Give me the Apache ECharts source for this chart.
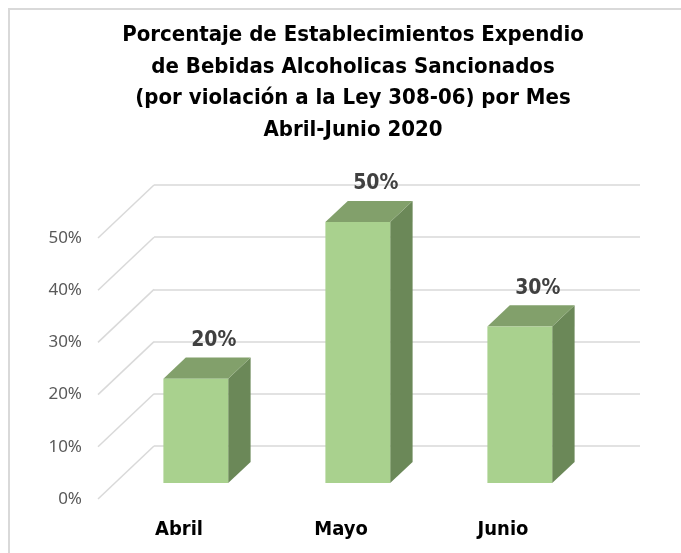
<!DOCTYPE html>
<html>
<head>
<meta charset="utf-8">
<script src="https://cdn.jsdelivr.net/npm/echarts@6/dist/echarts.min.js"></script>
<style>
  html, body { margin: 0; padding: 0; background: #fff; }
  #container { width: 681px; height: 553px; }
</style>
</head>
<body>
<div id="container"></div>
<script>
// datos
var categories = ['Abril', 'Mayo', 'Junio'];
var values = [20, 50, 30];
var yTicks = [0, 10, 20, 30, 40, 50];

var titleText = 'Porcentaje de Establecimientos Expendio\nde Bebidas Alcoholicas Sancionados\n(por violación a la Ley 308-06) por Mes\nAbril-Junio 2020';

// profundidad del "3D" (pixeles)
var DX = 56, DY = 53;
var BAR_FRONT = 0.3, BAR_DEPTH = 0.4;

var dom = document.getElementById('container');
var myChart = echarts.init(dom);

function renderWall(params, api) {
    var v = api.value(0);
    var p = api.coord([0, v]);
    var x0 = params.coordSys.x;
    return {
        type: 'line',
        shape: { x1: x0, y1: p[1], x2: x0 + DX, y2: p[1] - DY },
        style: { stroke: '#d9d9d9', lineWidth: 1.5 },
        silent: true
    };
}

function renderBar(params, api) {
    var i = api.value(0);
    var v = api.value(1);
    var base = api.coord([i, 0]);
    var top = api.coord([i, v]);
    var half = api.size([1, 0])[0] * 0.2;
    var ox = DX * BAR_FRONT, oy = DY * BAR_FRONT;
    var dx = DX * BAR_DEPTH, dy = DY * BAR_DEPTH;
    var l = base[0] - half + ox, r = base[0] + half + ox;
    var b = base[1] - oy, t = top[1] - oy;
    return {
        type: 'group',
        children: [
            {
                type: 'polygon',
                shape: { points: [[r, b], [r + dx, b - dy], [r + dx, t - dy], [r, t]] },
                style: { fill: '#6b8858' }
            },
            {
                type: 'polygon',
                shape: { points: [[l, t], [r, t], [r + dx, t - dy], [l + dx, t - dy]] },
                style: { fill: '#82a06b' }
            },
            {
                type: 'rect',
                shape: { x: l, y: t, width: r - l, height: b - t },
                style: { fill: '#a9d18e' }
            },
            {
                type: 'text',
                x: (l + r) / 2 + 18,
                y: t - dy - 17,
                style: {
                    text: v + '%',
                    fill: '#404040',
                    font: 'bold 21px "DejaVu Sans Condensed", "DejaVu Sans", sans-serif',
                    align: 'center',
                    verticalAlign: 'middle'
                }
            }
        ]
    };
}

var option = {
    backgroundColor: '#fff',
    animation: false,
    title: {
        text: titleText,
        left: 348,
        top: 15,
        textAlign: 'center',
        textStyle: {
            fontFamily: '"DejaVu Sans Condensed", "DejaVu Sans", sans-serif',
            fontWeight: 'bold',
            fontSize: 22,
            lineHeight: 31.5,
            color: '#000'
        }
    },
    graphic: [
        { type: 'line', shape: { x1: 8, y1: 9, x2: 681, y2: 9 }, style: { stroke: '#d9d9d9', lineWidth: 2 } },
        { type: 'line', shape: { x1: 9, y1: 8, x2: 9, y2: 553 }, style: { stroke: '#d9d9d9', lineWidth: 2 } }
    ],
    grid: [
        { left: 98, width: 486, top: 238, height: 261 },
        { left: 98 + DX, width: 486, top: 238 - DY, height: 261 }
    ],
    xAxis: [
        {
            type: 'category',
            gridIndex: 0,
            data: categories,
            axisLine: { show: false },
            axisTick: { show: false },
            axisLabel: {
                margin: 21,
                color: '#000',
                fontWeight: 'bold',
                fontSize: 20,
                fontFamily: '"DejaVu Sans Condensed", "DejaVu Sans", sans-serif'
            }
        },
        {
            type: 'category',
            gridIndex: 1,
            data: categories,
            show: false
        }
    ],
    yAxis: [
        {
            type: 'value',
            gridIndex: 0,
            min: 0,
            max: 50,
            interval: 10,
            axisLine: { show: false },
            axisTick: { show: false },
            splitLine: { show: false },
            axisLabel: {
                margin: 16,
                formatter: '{value}%',
                color: '#595959',
                fontSize: 17,
                fontFamily: '"Noto Sans", sans-serif'
            }
        },
        {
            type: 'value',
            gridIndex: 1,
            min: 0,
            max: 50,
            interval: 10,
            axisLine: { show: false },
            axisTick: { show: false },
            axisLabel: { show: false },
            splitLine: { show: true, lineStyle: { color: '#d9d9d9', width: 1.5 } }
        }
    ],
    series: [
        {
            type: 'custom',
            name: 'pared',
            xAxisIndex: 0,
            yAxisIndex: 0,
            renderItem: renderWall,
            data: yTicks.map(function (t) { return [t]; }),
            encode: { y: 0 },
            z: 1
        },
        {
            type: 'custom',
            name: 'Porcentaje',
            xAxisIndex: 0,
            yAxisIndex: 0,
            renderItem: renderBar,
            data: values.map(function (v, i) { return [i, v]; }),
            encode: { x: 0, y: 1 },
            z: 5
        }
    ]
};
myChart.setOption(option);
</script>
</body>
</html>
